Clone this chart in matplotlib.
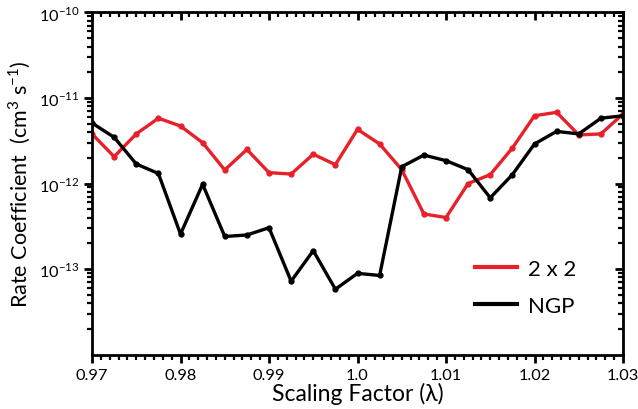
"""Rate coefficient versus scaling factor, 2 x 2 and NGP."""

import matplotlib

matplotlib.use("Agg")
import matplotlib.pyplot as plt
from matplotlib.lines import Line2D
from matplotlib.ticker import FixedLocator, LogLocator, MultipleLocator, NullFormatter

plt.rcParams["font.family"] = ["Lato", "DejaVu Sans"]
plt.rcParams["mathtext.fontset"] = "custom"
plt.rcParams["mathtext.rm"] = "Lato"

scaling = [0.97, 0.9725, 0.975, 0.9775, 0.98, 0.9825, 0.985, 0.9875, 0.99,
           0.9925, 0.995, 0.9975, 1.0, 1.0025, 1.005, 1.0075, 1.01, 1.0125,
           1.015, 1.0175, 1.02, 1.0225, 1.025, 1.0275, 1.03]
rate_2x2 = [3.8e-12, 2.06e-12, 3.8e-12, 5.8e-12, 4.7e-12, 3.0e-12, 1.44e-12,
            2.5e-12, 1.34e-12, 1.29e-12, 2.2e-12, 1.66e-12, 4.3e-12, 2.9e-12,
            1.45e-12, 4.4e-13, 4.0e-13, 1.0e-12, 1.27e-12, 2.6e-12, 6.2e-12,
            6.8e-12, 3.7e-12, 3.8e-12, 6.5e-12]
rate_ngp = [5.1e-12, 3.47e-12, 1.69e-12, 1.31e-12, 2.56e-13, 9.8e-13, 2.4e-13,
            2.5e-13, 3.04e-13, 7.2e-14, 1.64e-13, 5.8e-14, 8.9e-14, 8.4e-14,
            1.57e-12, 2.15e-12, 1.85e-12, 1.45e-12, 6.8e-13, 1.27e-12, 2.9e-12,
            4.07e-12, 3.8e-12, 5.8e-12, 6.2e-12]
x_ticks = [0.97, 0.98, 0.99, 1.0, 1.01, 1.02, 1.03]
x_tick_labels = ["0.97", "0.98", "0.99", "1.0", "1.01", "1.02", "1.03"]
y_ticks = [1e-13, 1e-12, 1e-11, 1e-10]
y_tick_labels = [r"10$^{-13}$", r"10$^{-12}$", r"10$^{-11}$", r"10$^{-10}$"]

RED = "#e8202a"

fig = plt.figure(figsize=(6.38, 4.10), dpi=100)
ax = fig.add_axes([0.1442, 0.1329, 0.8323, 0.8342])

ax.plot(scaling, rate_2x2, "-o", color=RED, lw=2.4, ms=3.5)
ax.plot(scaling, rate_ngp, "-o", color="black", lw=2.4, ms=3.5)

ax.set_yscale("log")
ax.set_xlim(0.97, 1.03)
ax.set_ylim(1e-14, 1e-10)
ax.set_xticks(x_ticks)
ax.set_xticklabels(x_tick_labels)
ax.xaxis.set_minor_locator(MultipleLocator(0.001))
ax.set_yticks(y_ticks)
ax.set_yticklabels(y_tick_labels)
ax.yaxis.set_minor_locator(LogLocator(base=10, subs=range(2, 10), numticks=12))
ax.yaxis.set_minor_formatter(NullFormatter())

for side in ax.spines.values():
    side.set_linewidth(2.0)
ax.tick_params(which="major", direction="out", length=6, width=2, labelsize=11.8)
ax.tick_params(axis="x", which="major", pad=4)
ax.tick_params(axis="y", which="major", pad=3)
ax.tick_params(which="minor", direction="out", length=3.5, width=1.6)

# inward ticks on the top and right edges
top = ax.secondary_xaxis("top")
top.xaxis.set_major_locator(FixedLocator(x_ticks))
top.xaxis.set_minor_locator(MultipleLocator(0.001))
top.tick_params(which="major", direction="in", length=6, width=2, labeltop=False)
top.tick_params(which="minor", direction="in", length=3.5, width=1.6)
right = ax.secondary_yaxis("right")
right.set_yscale("log")
right.yaxis.set_major_locator(FixedLocator(y_ticks))
right.yaxis.set_minor_locator(LogLocator(base=10, subs=range(2, 10), numticks=12))
right.yaxis.set_minor_formatter(NullFormatter())
right.tick_params(which="major", direction="in", length=6, width=2, labelright=False)
right.tick_params(which="minor", direction="in", length=3.5, width=1.6)

ax.set_xlabel("Scaling Factor (λ)", fontsize=16.5, labelpad=0)
ax.set_ylabel(r"Rate Coefficient  (cm$^3$ s$^{-1}$)", fontsize=15.5, labelpad=4)

handles = [Line2D([], [], color=RED, lw=3), Line2D([], [], color="black", lw=3)]
ax.legend(handles, ["2 x 2", "NGP"], loc="lower right", bbox_to_anchor=(0.95, 0.055),
          frameon=False, fontsize=16, handlelength=1.9, handletextpad=0.5,
          labelspacing=0.75)

fig.savefig("out.png", dpi=100)
